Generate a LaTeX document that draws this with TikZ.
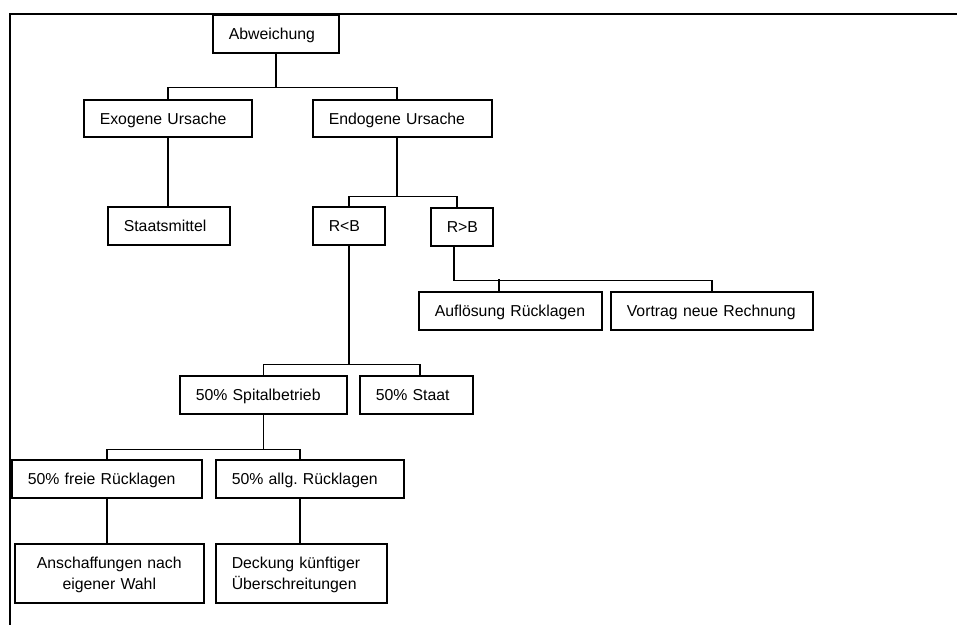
\documentclass[tikz,border=0pt]{standalone}
\usepackage{fontspec}
\setmainfont{Liberation Sans}

\begin{document}
\begin{tikzpicture}[
                x=0.02cm, y=-0.02cm,
                font=\fontsize{9}{11.5}\selectfont,
                line width=0.9pt,
                box/.style 2 args={draw, anchor=north west, inner xsep=0.32cm, inner ysep=0pt,
                    align=left, text width=#1*0.02cm-0.64cm, minimum height=#2*0.02cm,
                    text depth=0pt},
                twolines/.style={text depth=11.5pt},
                frame/.style={line width=1.1pt}
            ]
            \useasboundingbox (0,0) rectangle (957,625);

            % Frame
            \draw[frame] (10,625) -- (10,14) -- (957,14);

            % Boxes
            \node[box={126}{38}] (abw) at (212,14) {Abweichung};
            \node[box={168}{37}] (exo) at (83,99) {Exogene Ursache};
            \node[box={179}{37}] (endo) at (312,99) {Endogene Ursache};
            \node[box={122}{38}] (stm) at (107,206) {Staatsmittel};
            \node[box={72}{38}] (rlb) at (312,206) {R<B};
            \node[box={62}{38}] (rgb) at (430,207) {R>B};
            \node[box={183}{38}] (aufl) at (418,291) {Auflösung Rücklagen};
            \node[box={202}{38}] (vortrag) at (610,291) {Vortrag neue Rechnung};
            \node[box={167}{38}] (spital) at (179,375) {50\% Spitalbetrieb};
            \node[box={113}{38}] (staat) at (359,375) {50\% Staat};
            \node[box={190}{38}] (freie) at (11,459) {50\% freie Rücklagen};
            \node[box={188}{38}] (allg) at (215,459) {50\% allg.\ Rücklagen};
            \node[box={189}{59}, twolines, align=center] (ansch) at (14,543) {Anschaffungen nach\\eigener Wahl};
            \node[box={171}{59}, twolines] (deck) at (215,543) {Deckung künftiger\\Überschreitungen};

            % Connectors
            \draw (abw.south) -- ++(0,34) coordinate (j1);
            \draw (exo.north) |- (j1) -| ([xshift=-0.11cm]endo.north);
            \draw (exo.south) -- (exo.south |- stm.north);

            \draw ([xshift=-0.11cm]endo.south) -- ++(0,59) coordinate (j2);
            \draw (rlb.north) |- (j2) -| ([xshift=-0.1cm]rgb.north);

            \draw ([xshift=-0.16cm]rgb.south) -- ++(0,34) coordinate (j3) -| (vortrag.north);
            \draw ([xshift=-0.23cm]aufl.north) -- ++(0,-12);

            \draw (rlb.south) -- ++(0,119) coordinate (j4);
            \draw (spital.north) |- (j4) -| ([xshift=0.07cm]staat.north);

            \draw (spital.south) -- ++(0,35) coordinate (j5);
            \draw (freie.north) |- (j5) -| ([xshift=-0.2cm]allg.north);
            \draw (freie.south) -- (freie.south |- ansch.north);
            \draw ([xshift=-0.2cm]allg.south) -- ++(0,46);

            \end{tikzpicture}
\end{document}
